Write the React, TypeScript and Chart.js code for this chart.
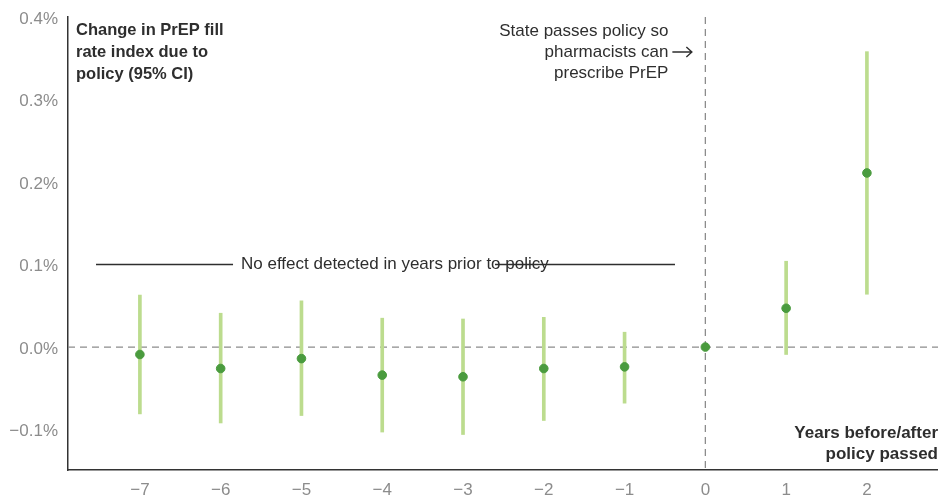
import React, { useEffect, useRef } from "react";
import { Chart, registerables } from "chart.js";

Chart.register(...registerables);

const years = [-7, -6, -5, -4, -3, -2, -1, 0, 1, 2];
const estimates = [-0.009, -0.026, -0.014, -0.034, -0.036, -0.026, -0.024, 0, 0.047, 0.211];
const ciLow = [-0.081, -0.092, -0.083, -0.103, -0.106, -0.089, -0.068, null, -0.009, 0.064];
const ciHigh = [0.063, 0.041, 0.056, 0.035, 0.034, 0.036, 0.018, null, 0.104, 0.358];
const yTicks = [-0.1, 0, 0.1, 0.2, 0.3, 0.4];
const xTicks = [-7, -6, -5, -4, -3, -2, -1, 0, 1, 2];

const titleLines = ["Change in PrEP fill", "rate index due to", "policy (95% CI)"];
const policyLines = ["State passes policy so", "pharmacists can", "prescribe PrEP"];
const axisTitleLines = ["Years before/after", "policy passed"];
const noEffectText = "No effect detected in years prior to policy";

const FONT = "'Liberation Sans', Arial, Helvetica, sans-serif";
const DARK = "#2e2e2e";
const GRAY = "#8c8c8c";

const fmtNum = (v: number, digits: number) => {
  const s = Math.abs(v).toFixed(digits);
  return (v < -1e-9 ? "\u2212" : "") + s;
};

const annotationPlugin = {
  id: "annotations",
  beforeDatasetsDraw(chart: any) {
    const { ctx, chartArea, scales } = chart;
    const x = scales.x;
    const y = scales.y;
    ctx.save();
    ctx.strokeStyle = GRAY;
    ctx.lineWidth = 1.3;
    ctx.setLineDash([7, 5]);
    const y0 = y.getPixelForValue(0);
    ctx.beginPath();
    ctx.moveTo(chartArea.left, y0);
    ctx.lineTo(chartArea.right, y0);
    ctx.stroke();
    const x0 = x.getPixelForValue(0);
    ctx.beginPath();
    ctx.moveTo(x0, chartArea.top);
    ctx.lineTo(x0, chartArea.bottom);
    ctx.stroke();
    ctx.restore();
  },
  afterDatasetsDraw(chart: any) {
    const { ctx, chartArea, scales } = chart;
    const x = scales.x;
    const y = scales.y;
    ctx.save();
    ctx.fillStyle = DARK;
    ctx.textBaseline = "middle";
    // title
    ctx.font = `bold 16.5px ${FONT}`;
    ctx.textAlign = "left";
    titleLines.forEach((l, i) => ctx.fillText(l, chartArea.left + 8, chartArea.top + 13 + i * 22));
    // policy annotation
    ctx.font = `17px ${FONT}`;
    ctx.textAlign = "right";
    const xp = x.getPixelForValue(0) - 37;
    policyLines.forEach((l, i) => ctx.fillText(l, xp, chartArea.top + 14 + i * 21));
    // arrow
    const ay = chartArea.top + 35;
    ctx.strokeStyle = DARK;
    ctx.lineWidth = 1.4;
    ctx.beginPath();
    ctx.moveTo(xp + 4, ay);
    ctx.lineTo(xp + 23, ay);
    ctx.moveTo(xp + 18, ay - 5);
    ctx.lineTo(xp + 23.5, ay);
    ctx.lineTo(xp + 18, ay + 5);
    ctx.stroke();
    // axis title
    ctx.font = `bold 17px ${FONT}`;
    ctx.textAlign = "right";
    axisTitleLines.forEach((l, i) => ctx.fillText(l, chartArea.right, chartArea.bottom - 37 + i * 21));
    // no effect text + lines
    const yl = y.getPixelForValue(0.1);
    ctx.font = `17px ${FONT}`;
    ctx.textAlign = "left";
    ctx.fillText(noEffectText, x.getPixelForValue(-5.748), yl);
    ctx.strokeStyle = DARK;
    ctx.lineWidth = 1.4;
    ctx.beginPath();
    ctx.moveTo(x.getPixelForValue(-7.543), yl);
    ctx.lineTo(x.getPixelForValue(-5.847), yl);
    ctx.moveTo(x.getPixelForValue(-2.604), yl);
    ctx.lineTo(x.getPixelForValue(-0.376), yl);
    ctx.stroke();
    ctx.restore();
  },
};

export default function App() {
  const ref = useRef<HTMLCanvasElement | null>(null);
  useEffect(() => {
    if (!ref.current) return;
    const ciData = years
      .map((yr, i) => (ciLow[i] == null ? null : { x: yr, y: [ciLow[i], ciHigh[i]] }))
      .filter((d) => d != null);
    const ptData = years.map((yr, i) => ({ x: yr, y: estimates[i] }));
    const chart = new Chart(ref.current, {
      type: "bar",
      data: {
        datasets: [
          {
            type: "scatter",
            data: ptData as any,
            backgroundColor: "#4a9b3e",
            borderColor: "#4a9b3e",
            pointRadius: 4.3,
            pointHoverRadius: 4.3,
            order: 0,
          } as any,
          {
            type: "bar",
            data: ciData as any,
            backgroundColor: "#bcdc8e",
            borderWidth: 0,
            barThickness: 3,
            grouped: false,
            order: 1,
          } as any,
        ],
      },
      plugins: [annotationPlugin],
      options: {
        animation: false,
        responsive: true,
        maintainAspectRatio: false,
        layout: { autoPadding: false, padding: { top: 17, right: 0, left: 0, bottom: 0 } },
        plugins: { legend: { display: false }, tooltip: { enabled: false } },
        scales: {
          x: {
            type: "linear",
            offset: false,
            min: -7.89,
            max: 2.88,
            grid: { display: false, drawTicks: false },
            border: { display: true, color: "#333", width: 1.5 },
            afterBuildTicks: (s: any) => {
              s.ticks = xTicks.map((v) => ({ value: v }));
            },
            afterFit: (s: any) => {
              s.height = 25;
              s.paddingLeft = 0;
              s.paddingRight = 0;
            },
            ticks: {
              color: GRAY,
              font: { family: FONT, size: 17 },
              padding: 10,
              maxRotation: 0,
              autoSkip: false,
              callback: (v: any) => fmtNum(Number(v), 0),
            },
          },
          y: {
            type: "linear",
            min: -0.149,
            max: 0.4,
            grid: { display: false, drawTicks: false },
            border: { display: true, color: "#333", width: 1.5 },
            afterBuildTicks: (s: any) => {
              s.ticks = yTicks.map((v) => ({ value: v }));
            },
            afterFit: (s: any) => {
              s.width = 68;
              s.paddingTop = 0;
              s.paddingBottom = 0;
            },
            ticks: {
              color: GRAY,
              font: { family: FONT, size: 17 },
              padding: 10,
              labelOffset: 2,
              callback: (v: any) => fmtNum(Number(v), 1) + "%",
            },
          },
        },
      } as any,
    });
    return () => chart.destroy();
  }, []);
  return (
    <div style={{ position: "fixed", left: 0, top: 0, width: 938, height: 495, background: "#fff" }}>
      <canvas ref={ref} />
    </div>
  );
}
